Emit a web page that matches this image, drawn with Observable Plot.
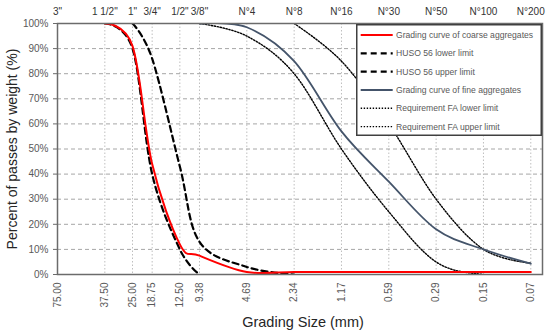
<!DOCTYPE html>
<html><head><meta charset="utf-8">
<script src="https://cdn.jsdelivr.net/npm/d3@7"></script>
<script src="https://cdn.jsdelivr.net/npm/@observablehq/plot@0.6"></script>
<style>
body{margin:0;background:#fff;}
#chart{position:relative;width:550px;height:336px;font-family:"Liberation Sans",Arial,sans-serif;}
#legend{position:absolute;left:356px;top:24px;}
</style></head><body><div id="chart"></div>
<script>
const sizes = [75, 37.5, 25, 18.75, 12.5, 9.375, 4.6875, 2.34375, 1.171875, 0.5859375, 0.29296875, 0.146484375, 0.0732421875];
const sizeLabels = ["75.00","37.50","25.00","18.75","12.50","9.38","4.69","2.34","1.17","0.59","0.29","0.15","0.07"];
const sieveLabels = ['3"','1 1/2"','1"','3/4"','1/2"','3/8"',"N°4","N°8","N°16","N°30","N°50","N°100","N°200"];
const yTicks = [0,10,20,30,40,50,60,70,80,90,100];
const seriesNames = ["Grading curve of coarse aggregates","HUSO 56 lower limit","HUSO 56 upper limit","Grading curve of fine aggregates","Requirement FA lower limit","Requirement FA upper limit"];
const coarse    = [null,100,91,44,12,7.5,1,1,1,1,1,1,1];
const husoLower = [null,100,90,40,10,0,null,null,null,null,null,null,null];
const husoUpper = [null,null,100,86,43,13,3,0,null,null,null,null,null];
const fine      = [null,null,null,null,null,100,98.5,85,57,37,18,10,4.3];
const faLower   = [null,null,null,null,null,100,95,80,50,25,5,0,0];
const faUpper   = [null,null,null,null,null,null,null,100,85,60,30,10,4.5];
const seriesValues = [coarse,husoLower,husoUpper,fine,faLower,faUpper];
const seriesStyles = [
  {stroke:"#ff0000", strokeWidth:2, dash:null},
  {stroke:"#000000", strokeWidth:2.2, dash:"6,4"},
  {stroke:"#000000", strokeWidth:2.2, dash:"6,4"},
  {stroke:"#44546a", strokeWidth:1.8, dash:null},
  {stroke:"#000000", strokeWidth:1.4, dash:"1.4,1.6"},
  {stroke:"#000000", strokeWidth:1.4, dash:"1.4,1.6"}
];
const rows = (arr) => sizes.map((s,i)=>({size:s, pct:arr[i]})).filter(d=>d.pct!=null);

const lineMarks = seriesValues.map((arr,k)=>Plot.line(rows(arr), {
  x:"size", y:"pct", curve:"cardinal", tension:0, clip:true,
  stroke:seriesStyles[k].stroke, strokeWidth:seriesStyles[k].strokeWidth,
  strokeDasharray:seriesStyles[k].dash
}));
const order = [1,2,4,5,3,0];

const chart = Plot.plot({
  width:550, height:336,
  marginLeft:57, marginRight:8, marginTop:23, marginBottom:62,
  style:{fontFamily:"'Liberation Sans',Arial,sans-serif", background:"#fff"},
  x:{type:"log", domain:[75,0.0617], axis:null},
  y:{domain:[0,100], axis:null},
  marks:[
    Plot.gridX(sizes, {stroke:"#bfbfbf", strokeOpacity:1, strokeDasharray:"1.5,2"}),
    Plot.gridY(yTicks.slice(1,10), {stroke:"#a6a6a6", strokeOpacity:1, strokeDasharray:"4,3"}),
    ...order.map(k=>lineMarks[k]),
    Plot.frame({stroke:"#6b6b6b", strokeWidth:1.5}),
    Plot.text(sizes, {x:d=>d, text:(d,i)=>sizeLabels[i], frameAnchor:"bottom", rotate:-90, textAnchor:"end", lineAnchor:"middle", dy:8, fontSize:10, fill:"#595959"}),
    Plot.text(sizes, {x:d=>d, text:(d,i)=>sieveLabels[i], frameAnchor:"top", lineAnchor:"middle", dy:-12, fontSize:10, fill:"#333"}),
    Plot.axisY(yTicks, {tickFormat:d=>d+"%", tickSize:4, tickPadding:5, fontSize:10, fill:"#595959", stroke:"#6b6b6b", label:null}),
    Plot.text(["Percent of passes by weight (%)"], {frameAnchor:"left", rotate:-90, dx:-45, textAnchor:"middle", lineAnchor:"middle", fontSize:14, fill:"#262626"}),
    Plot.text(["Grading Size (mm)"], {frameAnchor:"bottom", dy:48, dx:3, lineAnchor:"middle", fontSize:14.5, fill:"#262626"})
  ]
});
const host = document.getElementById("chart");
host.appendChild(chart);

// legend
const lg = d3.select(host).append("svg").attr("id","legend").attr("width",186).attr("height",112);
lg.append("rect").attr("x",0.75).attr("y",0.75).attr("width",184.5).attr("height",110.5)
  .attr("fill","#fff").attr("stroke","#404040").attr("stroke-width",1.5);
seriesNames.forEach((name,i)=>{
  const yy = 11 + i*18.33;
  const st = seriesStyles[i];
  lg.append("line").attr("x1",4.7).attr("x2",36.7).attr("y1",yy).attr("y2",yy)
    .attr("stroke",st.stroke).attr("stroke-width",st.strokeWidth)
    .attr("stroke-dasharray",st.dash);
  lg.append("text").attr("x",40).attr("y",yy).attr("dy","0.35em")
    .attr("font-family","'Liberation Sans',Arial,sans-serif")
    .attr("font-size",8.6).attr("fill","#595959").text(name);
});
</script></body></html>
